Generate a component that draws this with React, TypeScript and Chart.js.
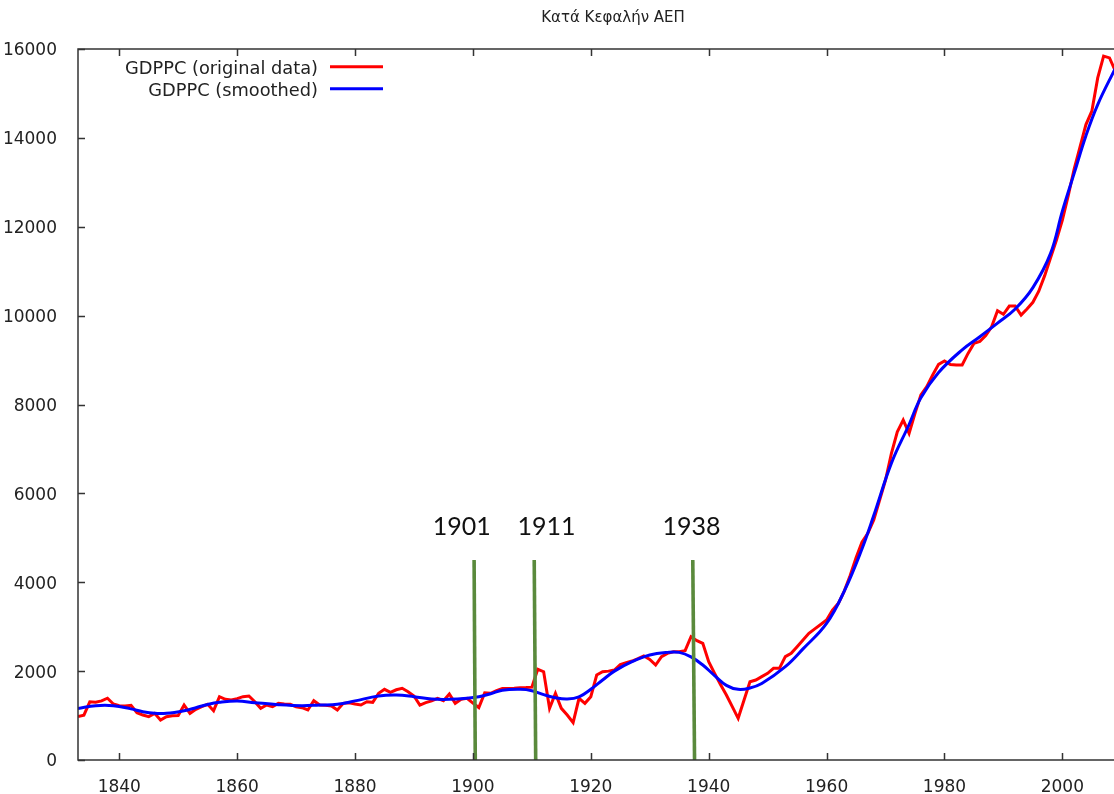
import React, { useEffect, useRef } from 'react';
import { Chart, registerables } from 'chart.js';

Chart.register(...registerables);

const titleText = 'Κατά Κεφαλήν ΑΕΠ';
const seriesLabels = ['GDPPC (original data)', 'GDPPC (smoothed)'];

const years = [
  1833, 1834, 1835, 1836, 1837, 1838, 1839, 1840, 1841, 1842, 1843, 1844, 1845, 1846, 1847, 1848, 1849, 1850,
  1851, 1852, 1853, 1854, 1855, 1856, 1857, 1858, 1859, 1860, 1861, 1862, 1863, 1864, 1865, 1866, 1867, 1868,
  1869, 1870, 1871, 1872, 1873, 1874, 1875, 1876, 1877, 1878, 1879, 1880, 1881, 1882, 1883, 1884, 1885, 1886,
  1887, 1888, 1889, 1890, 1891, 1892, 1893, 1894, 1895, 1896, 1897, 1898, 1899, 1900, 1901, 1902, 1903, 1904,
  1905, 1906, 1907, 1908, 1909, 1910, 1911, 1912, 1913, 1914, 1915, 1916, 1917, 1918, 1919, 1920, 1921, 1922,
  1923, 1924, 1925, 1926, 1927, 1928, 1929, 1930, 1931, 1932, 1933, 1934, 1935, 1936, 1937, 1938, 1939, 1940,
  1941, 1942, 1943, 1944, 1945, 1946, 1947, 1948, 1949, 1950, 1951, 1952, 1953, 1954, 1955, 1956, 1957, 1958,
  1959, 1960, 1961, 1962, 1963, 1964, 1965, 1966, 1967, 1968, 1969, 1970, 1971, 1972, 1973, 1974, 1975, 1976,
  1977, 1978, 1979, 1980, 1981, 1982, 1983, 1984, 1985, 1986, 1987, 1988, 1989, 1990, 1991, 1992, 1993, 1994,
  1995, 1996, 1997, 1998, 1999, 2000, 2001, 2002, 2003, 2004, 2005, 2006, 2007, 2008, 2009,
];

const gdppcOriginal = [
  980, 1010, 1310, 1300, 1330, 1390, 1260, 1220, 1215, 1230, 1065, 1012, 975, 1050, 900, 975, 998, 1000,
  1237, 1050, 1140, 1200, 1253, 1110, 1425, 1365, 1350, 1380, 1425, 1440, 1312, 1162, 1237, 1200, 1275, 1260,
  1253, 1200, 1177, 1125, 1335, 1237, 1230, 1215, 1125, 1275, 1290, 1260, 1237, 1312, 1298, 1500, 1590, 1523,
  1580, 1613, 1537, 1440, 1237, 1290, 1330, 1388, 1335, 1485, 1275, 1365, 1388, 1280, 1180, 1510, 1500, 1560,
  1610, 1610, 1615, 1625, 1630, 1640, 2040, 1987, 1162, 1500, 1162, 1012, 840, 1388, 1275, 1425, 1912, 1987,
  2000, 2025, 2150, 2190, 2227, 2280, 2340, 2265, 2137, 2325, 2400, 2437, 2437, 2460, 2775, 2685, 2625, 2212,
  1950, 1700, 1462, 1200, 938, 1350, 1762, 1800, 1875, 1950, 2063, 2063, 2325, 2400, 2550, 2700, 2850, 2950,
  3050, 3150, 3375, 3525, 3800, 4150, 4550, 4900, 5100, 5400, 5850, 6300, 6900, 7387, 7650, 7350, 7800, 8213,
  8400, 8663, 8903, 8978, 8900, 8888, 8888, 9150, 9375, 9420, 9550, 9750, 10110, 10030, 10215, 10215, 10012, 10150,
  10300, 10550, 10900, 11300, 11700, 12150, 12700, 13300, 13800, 14300, 14600, 15350, 15840, 15800, 15500,
];

const smoothYears = [
  1833, 1836, 1839, 1842, 1844, 1846, 1848, 1851, 1853, 1855, 1857, 1860, 1863, 1867, 1871, 1874, 1877, 1880,
  1884, 1887, 1890, 1893, 1896, 1899, 1901, 1903, 1905, 1908, 1910, 1912, 1914, 1916, 1918, 1920, 1922, 1924,
  1927, 1930, 1933, 1935, 1937, 1939, 1941, 1943, 1945, 1947, 1949, 1953, 1956, 1960, 1963, 1966, 1968, 1971,
  1974, 1976, 1979, 1983, 1986, 1989, 1992, 1995, 1998, 2000, 2002, 2004, 2006, 2009,
];

const gdppcSmoothed = [
  1160, 1222, 1222, 1150, 1087, 1050, 1050, 1110, 1177, 1250, 1298, 1327, 1290, 1245, 1222, 1237, 1253, 1330,
  1440, 1462, 1425, 1372, 1365, 1390, 1425, 1490, 1570, 1590, 1560, 1470, 1400, 1372, 1420, 1590, 1800, 2000,
  2212, 2362, 2422, 2422, 2320, 2137, 1900, 1680, 1590, 1620, 1720, 2100, 2500, 3075, 3800, 4750, 5500, 6680,
  7550, 8150, 8720, 9230, 9525, 9830, 10150, 10630, 11400, 12350, 13200, 14050, 14750, 15570,
];

const xTickValues = [1840, 1860, 1880, 1900, 1920, 1940, 1960, 1980, 2000];
const yTickValues = [0, 2000, 4000, 6000, 8000, 10000, 12000, 14000, 16000];

const markerLabels = ['1901', '1911', '1938'];
const markerTopYears = [1900.2, 1910.4, 1937.3];
const markerBottomYears = [1900.4, 1910.65, 1937.6];
const markerTopValue = 4500;
const markerLabelYears = [1898.1, 1912.5, 1937.1];
const markerLabelValue = 5060;

const FONT = "'DejaVu Sans', Verdana, sans-serif";

const framePlugin = {
  id: 'gnuFrame',
  afterDraw(chart: any) {
    const { ctx, chartArea: a, scales } = chart;
    const xs = scales.x;
    const ys = scales.y;
    ctx.save();
    ctx.strokeStyle = '#333333';
    ctx.lineWidth = 1.5;
    ctx.beginPath();
    ctx.rect(a.left, a.top, a.right - a.left, a.bottom - a.top);
    ctx.stroke();
    const L = 7;
    ctx.beginPath();
    xTickValues.forEach((v) => {
      const px = Math.round(xs.getPixelForValue(v)) + 0.5;
      ctx.moveTo(px, a.bottom);
      ctx.lineTo(px, a.bottom - L);
      ctx.moveTo(px, a.top);
      ctx.lineTo(px, a.top + L);
    });
    yTickValues.forEach((v) => {
      const py = Math.round(ys.getPixelForValue(v)) + 0.5;
      ctx.moveTo(a.left, py);
      ctx.lineTo(a.left + L, py);
      ctx.moveTo(a.right, py);
      ctx.lineTo(a.right - L, py);
    });
    ctx.stroke();
    ctx.restore();
  },
};

const textPlugin = {
  id: 'gnuText',
  afterDraw(chart: any) {
    const { ctx, scales } = chart;
    const xs = scales.x;
    const ys = scales.y;
    ctx.save();
    // title
    ctx.fillStyle = '#222222';
    ctx.font = `15px ${FONT}`;
    ctx.textAlign = 'center';
    ctx.textBaseline = 'alphabetic';
    ctx.fillText(titleText, 613, 22);

    // legend
    const legendColors = ['#ff0000', '#0000ff'];
    const baselines = [74, 96];
    const lineYs = [66.7, 88.7];
    ctx.font = `17.8px ${FONT}`;
    ctx.textAlign = 'right';
    seriesLabels.forEach((lab, i) => {
      ctx.fillStyle = '#222222';
      ctx.fillText(lab, 318, baselines[i]);
      ctx.strokeStyle = legendColors[i];
      ctx.lineWidth = 3;
      ctx.beginPath();
      ctx.moveTo(330, lineYs[i]);
      ctx.lineTo(383, lineYs[i]);
      ctx.stroke();
    });

    // marker labels
    ctx.fillStyle = '#111111';
    ctx.font = `25px Lato, 'Open Sans', sans-serif`;
    ctx.textAlign = 'center';
    markerLabels.forEach((lab, i) => {
      ctx.fillText(lab, xs.getPixelForValue(markerLabelYears[i]), ys.getPixelForValue(markerLabelValue));
    });
    ctx.restore();
  },
};

export default function App() {
  const ref = useRef<HTMLCanvasElement | null>(null);

  useEffect(() => {
    if (!ref.current) return;
    const markerDatasets = markerLabels.map((lab, i) => ({
      label: 'marker ' + lab,
      data: [
        { x: markerTopYears[i], y: markerTopValue },
        { x: markerBottomYears[i], y: 0 },
      ],
      borderColor: '#5a8a3c',
      borderWidth: 3.6,
      pointRadius: 0,
      tension: 0,
      order: 0,
    }));
    const chart = new Chart(ref.current, {
      type: 'line',
      data: {
        datasets: [
          {
            label: seriesLabels[0],
            data: years.map((yr, i) => ({ x: yr, y: gdppcOriginal[i] })),
            borderColor: '#ff0000',
            borderWidth: 3,
            pointRadius: 0,
            tension: 0,
            order: 2,
          },
          {
            label: seriesLabels[1],
            data: smoothYears.map((yr, i) => ({ x: yr, y: gdppcSmoothed[i] })),
            borderColor: '#0000ff',
            borderWidth: 3,
            pointRadius: 0,
            tension: 0.4,
            order: 1,
          },
          ...markerDatasets,
        ] as any,
      },
      options: {
        animation: false,
        responsive: false,
        devicePixelRatio: 1,
        layout: { padding: { top: 49, right: 8.7, left: 0, bottom: 0 } },
        plugins: {
          legend: { display: false },
          tooltip: { enabled: false },
          title: { display: false },
        },
        scales: {
          x: {
            type: 'linear',
            min: 1833,
            max: 2010,
            afterBuildTicks: (s: any) => {
              s.ticks = xTickValues.map((v) => ({ value: v }));
            },
            afterFit: (s: any) => {
              s.height = 34;
            },
            grid: { display: false },
            border: { display: false },
            ticks: {
              font: { family: FONT, size: 17 },
              color: '#222222',
              padding: 9,
              maxRotation: 0,
              autoSkip: false,
              callback: (v: any) => String(v),
            },
          },
          y: {
            type: 'linear',
            min: 0,
            max: 16000,
            afterBuildTicks: (s: any) => {
              s.ticks = yTickValues.map((v) => ({ value: v }));
            },
            afterFit: (s: any) => {
              s.width = 78;
            },
            grid: { display: false },
            border: { display: false },
            ticks: {
              font: { family: FONT, size: 17 },
              color: '#222222',
              padding: 13,
              labelOffset: 2,
              autoSkip: false,
              callback: (v: any) => String(v),
            },
          },
        },
      } as any,
      plugins: [framePlugin, textPlugin],
    });
    return () => chart.destroy();
  }, []);

  return (
    <div
      style={{
        position: 'absolute',
        left: 0,
        top: 0,
        width: 1114,
        height: 794,
        overflow: 'hidden',
        background: '#ffffff',
      }}
    >
      <canvas ref={ref} width={1130} height={794} style={{ width: 1130, height: 794, display: 'block' }} />
    </div>
  );
}
